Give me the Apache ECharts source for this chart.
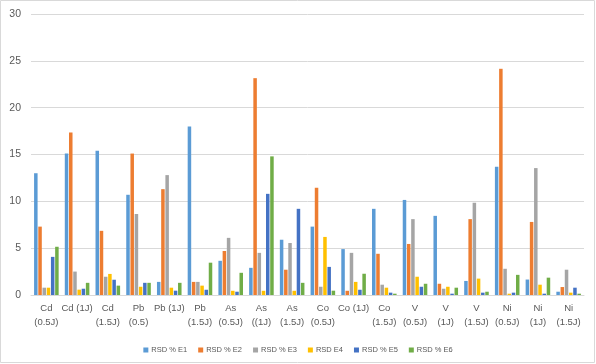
<!DOCTYPE html>
<html><head><meta charset="utf-8">
<script src="https://cdn.jsdelivr.net/npm/echarts@6/dist/echarts.min.js"></script>
<style>html,body{margin:0;padding:0;background:#fff}#c{width:596px;height:364px}</style>
</head><body><div id="c"></div>
<script>
const categories = ["Cd\n(0.5J)","Cd (1J)","Cd\n(1.5J)","Pb\n(0.5)","Pb (1J)","Pb\n(1.5J)","As\n(0.5J)","As\n((1J)","As\n(1.5J)","Co\n(0.5J)","Co (1J)","Co\n(1.5J)","V\n(0.5J)","V\n(1J)","V\n(1.5J)","Ni\n(0.5J)","Ni\n(1J)","Ni\n(1.5J)"];
const seriesNames = ["RSD % E1","RSD % E2","RSD % E3","RSD E4","RSD % E5","RSD % E6"];
const e1 = [13.0,15.1,15.4,10.7,1.4,18.0,3.65,2.9,5.9,7.3,4.9,9.2,10.15,8.45,1.5,13.7,1.65,0.35];
const e2 = [7.3,17.35,6.85,15.1,11.3,1.4,4.7,23.15,2.7,11.45,0.45,4.4,5.45,1.2,8.1,24.15,7.8,0.85];
const e3 = [0.78,2.5,1.95,8.65,12.8,1.4,6.1,4.5,5.55,0.88,4.5,1.1,8.1,0.67,9.85,2.8,13.55,2.7];
const e4 = [0.78,0.57,2.25,0.88,0.78,1.0,0.45,0.45,0.45,6.2,1.4,0.78,1.95,0.88,1.75,0.14,1.1,0.25];
const e5 = [4.07,0.67,1.63,1.3,0.46,0.56,0.35,10.8,9.2,3.0,0.56,0.25,0.88,0.14,0.25,0.25,0.14,0.78];
const e6 = [5.15,1.3,1.0,1.3,1.3,3.45,2.37,14.8,1.3,0.46,2.27,0.14,1.2,0.78,0.35,2.15,1.85,0.14];
const colors = ["#5B9BD5","#ED7D31","#A5A5A5","#FFC000","#4472C4","#70AD47"];
const yTicks = {min:0,max:30,interval:5};

const chart = echarts.init(document.getElementById('c'), null, {renderer:'canvas'});
const data = [e1,e2,e3,e4,e5,e6];
chart.setOption({
  animation:false,
  textStyle:{fontFamily:'Liberation Sans'},
  graphic:[{type:'rect',shape:{x:0.5,y:0.5,width:594,height:362},style:{fill:null,stroke:'#d9d9d9',lineWidth:1},silent:true}],
  grid:{left:31,right:12,top:14,bottom:69},
  legend:{top:341,left:'center',itemWidth:5,itemHeight:5,itemGap:11,icon:'rect',
    textStyle:{fontSize:7.5,color:'#595959',padding:[0,0,0,-2]},data:seriesNames},
  xAxis:{type:'category',data:categories,
    axisLine:{lineStyle:{color:'#d9d9d9'}},axisTick:{show:false},
    axisLabel:{interval:0,fontSize:9.5,color:'#595959',lineHeight:14,margin:6}},
  yAxis:{type:'value',min:yTicks.min,max:yTicks.max,interval:yTicks.interval,
    axisLine:{show:false},axisTick:{show:false},
    splitLine:{lineStyle:{color:'#d9d9d9'}},
    axisLabel:{fontSize:10.5,color:'#595959',margin:10}},
  series:seriesNames.map((n,i)=>({name:n,type:'bar',data:data[i],itemStyle:{color:colors[i]},
    barGap:'20%',barCategoryGap:'20%'}))
});
</script></body></html>
